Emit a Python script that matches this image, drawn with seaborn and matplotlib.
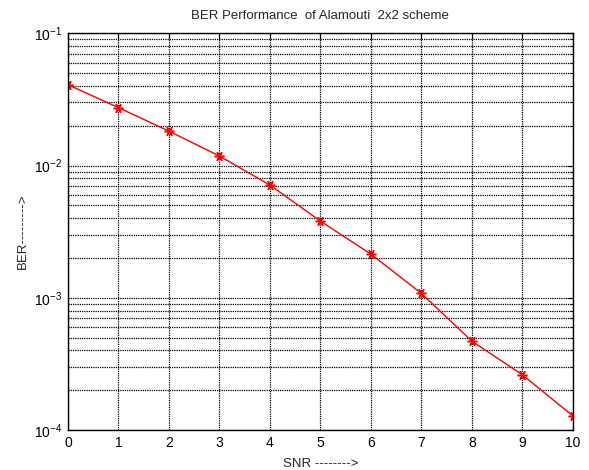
import matplotlib
matplotlib.use("Agg")
import matplotlib.pyplot as plt
import seaborn as sns
import numpy as np
import pandas as pd
from matplotlib.ticker import LogLocator, FixedLocator

snr = [0, 1, 2, 3, 4, 5, 6, 7, 8, 9, 10]
ber = [0.0408, 0.0274, 0.0182, 0.0118, 0.00712, 0.0038, 0.00214, 0.00108, 0.00047, 0.000262, 0.000128]
xticks = [0, 1, 2, 3, 4, 5, 6, 7, 8, 9, 10]

sns.set_style("white")
plt.rcParams['font.family'] = ['Liberation Sans', 'DejaVu Sans']
plt.rcParams['mathtext.fontset'] = 'custom'
plt.rcParams['mathtext.rm'] = 'Liberation Sans'
plt.rcParams['mathtext.it'] = 'Liberation Sans'

df = pd.DataFrame({"SNR": snr, "BER": ber})

fig = plt.figure(figsize=(5.89, 4.70), dpi=100)
ax = fig.add_axes([0.1155, 0.0851, 0.8568, 0.844])
sns.lineplot(data=df, x="SNR", y="BER", ax=ax, color="red", linewidth=1.0,
             marker=(6, 2, 90), markersize=7, markeredgewidth=1.1,
             markeredgecolor="red", markerfacecolor="red")
ax.set_yscale("log")
ax.set_xlim(0, 10)
ax.set_ylim(1e-4, 1e-1)
ax.xaxis.set_major_locator(FixedLocator(xticks))
ax.yaxis.set_major_locator(LogLocator(base=10, numticks=10))
ax.yaxis.set_minor_locator(LogLocator(base=10, subs=np.arange(2, 10), numticks=20))
ax.yaxis.set_minor_formatter(matplotlib.ticker.NullFormatter())
ax.grid(which="both", color="black", linestyle=(0, (1, 0.8)), linewidth=0.9)
ax.set_axisbelow(True)
ax.tick_params(which="both", direction="in", top=True, right=True, labelsize=10,
               colors="black", length=4, pad=4)
ax.tick_params(which="minor", length=2.5)
for s in ax.spines.values():
    s.set_color("black")
    s.set_linewidth(1.0)
ax.set_title("BER Performance  of Alamouti  2x2 scheme", fontsize=9.5, pad=10)
ax.set_xlabel("SNR -------->", fontsize=9.5, labelpad=6)
ax.set_ylabel("BER--------->", fontsize=9.5, labelpad=4)
fig.savefig("out.png", dpi=100)
